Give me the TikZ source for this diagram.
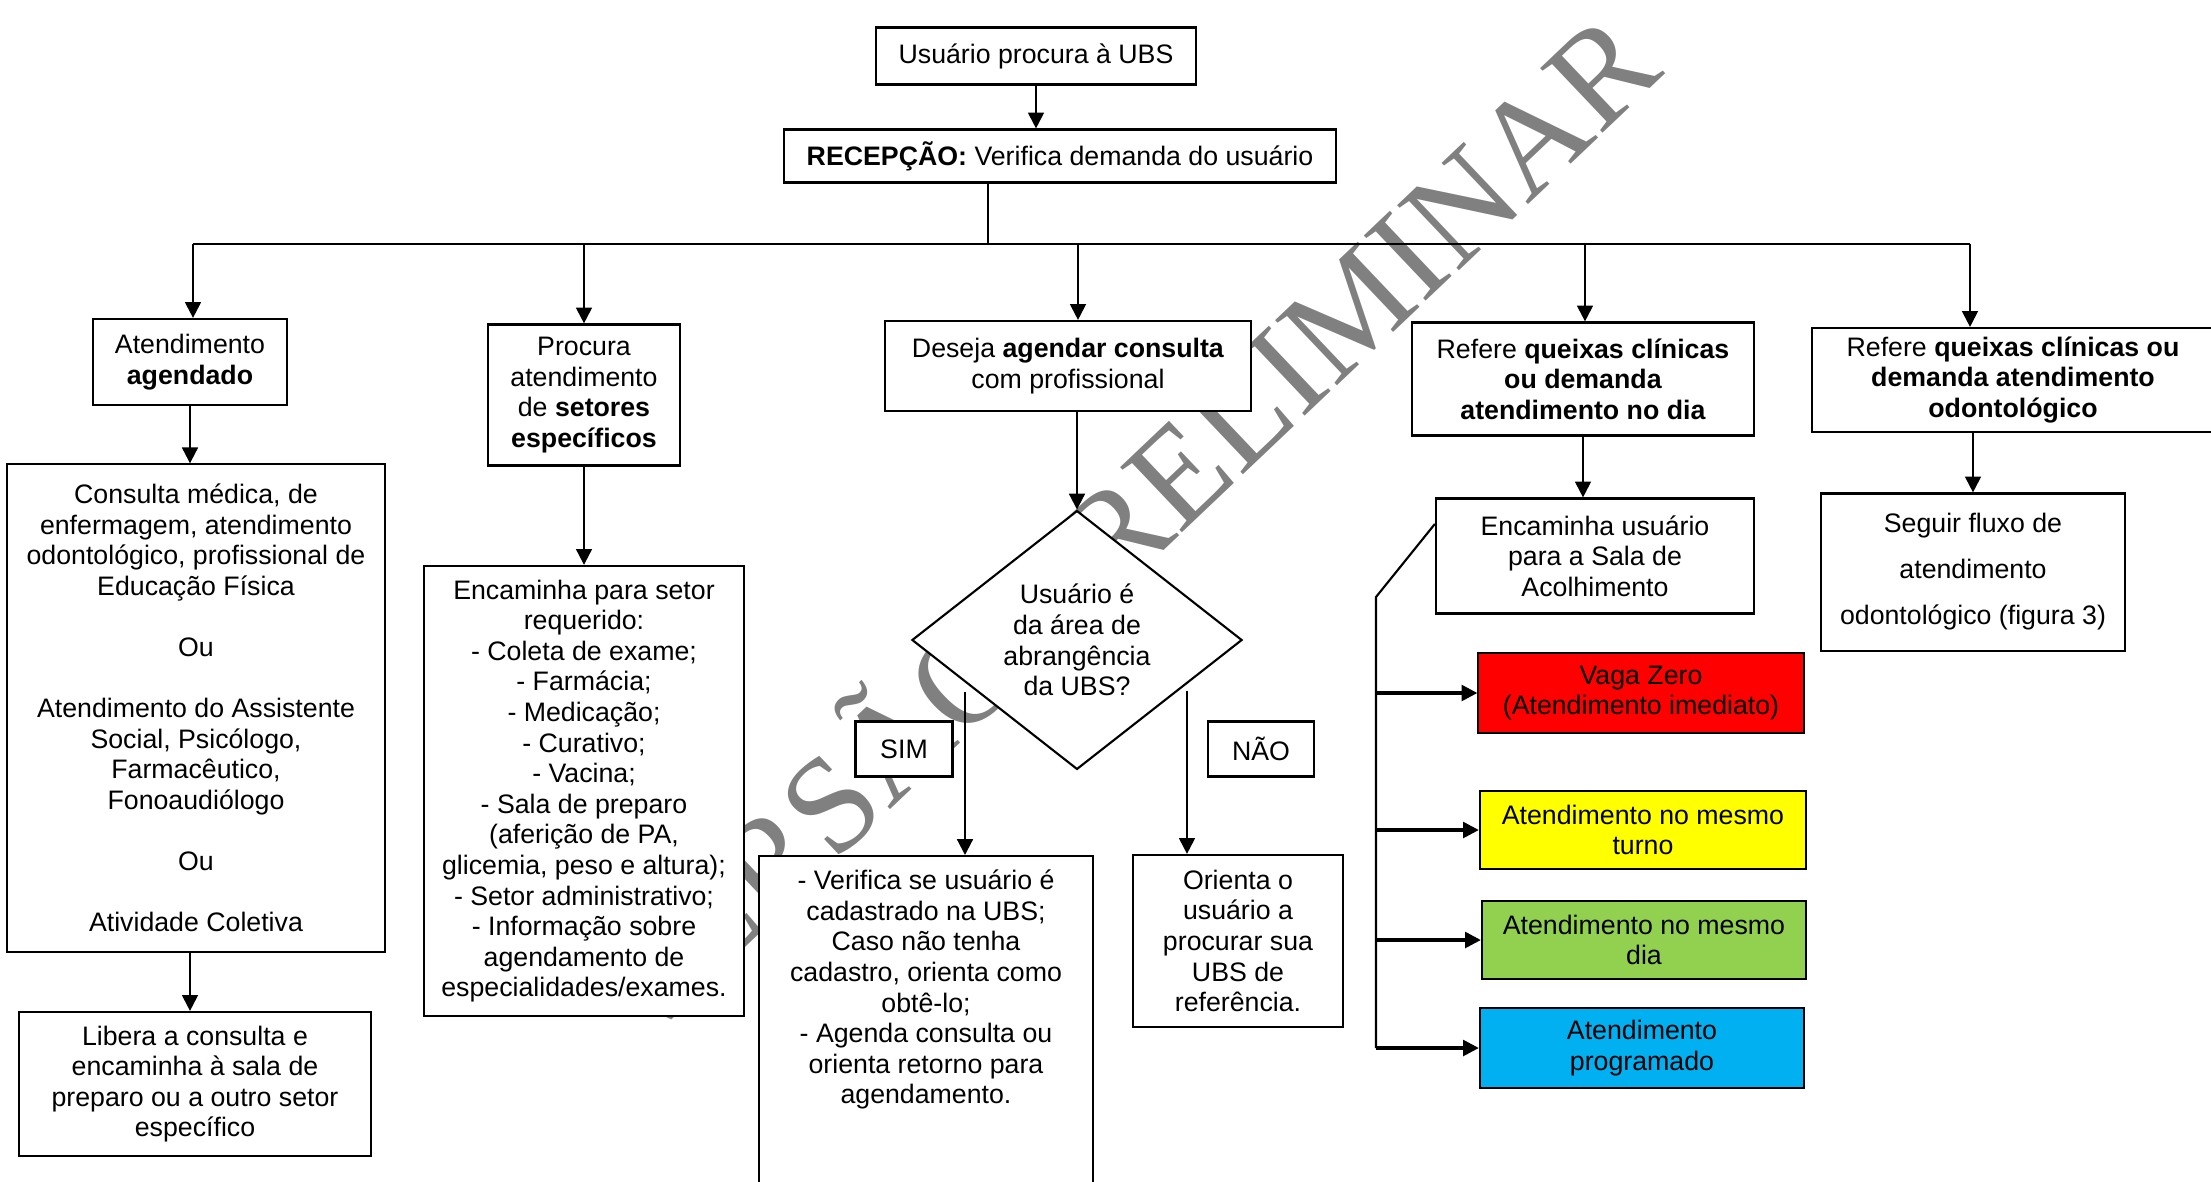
\documentclass[tikz,border=0pt]{standalone}
\usepackage{fontspec}
\setmainfont{Liberation Sans}
\newfontfamily\wmfont{Liberation Serif}
\usetikzlibrary{arrows.meta,shapes.geometric}
\pgfdeclarelayer{background}
\pgfsetlayers{background,main}
\definecolor{vzred}{HTML}{FF0000}
\definecolor{mtyellow}{HTML}{FFFF00}
\definecolor{mdgreen}{HTML}{92D050}
\definecolor{prblue}{HTML}{00B0F0}
\tikzstyle{box}=[draw,fill=white,line width=0.6pt,align=center,inner sep=0pt]
\tikzstyle{decision}=[diamond,draw,fill=white,line width=0.6pt,align=center,inner sep=0pt]
\tikzstyle{edge}=[draw,line width=0.6pt,-{Triangle[length=4.5pt,width=4.5pt]}]
\tikzstyle{branch}=[draw,line width=0.9pt,-{Triangle[length=4.5pt,width=4.5pt]}]
\tikzstyle{link}=[draw,line width=0.5pt]

\begin{document}
\begin{tikzpicture}[x=0.01cm,y=-0.01cm,font=\fontsize{7.6}{8.7}\selectfont]
\useasboundingbox (0,0) rectangle (2211,1181);

% watermark goes behind everything
\begin{pgfonlayer}{background}
\node[text=black!50,font=\fontsize{39}{39}\wmfont,rotate=43.5] (wm) at (1112,522) {VERSÃO PRELIMINAR};
\end{pgfonlayer}

% top of the flow
\node[box,minimum width=3.19cm,minimum height=0.57cm] (usr) at (1036,56) {Usuário procura à UBS};
\node[box,minimum width=5.52cm,minimum height=0.53cm] (rec) at (1060,156) {\textbf{RECEPÇÃO:} Verifica demanda do usuário};

% the five demands
\node[box,minimum width=1.94cm,minimum height=0.86cm] (ag) at (190,362) {Atendimento\\\textbf{agendado}};
\node[box,minimum width=1.92cm,minimum height=1.41cm] (proc) at (584,395) {Procura\\atendimento\\de \textbf{setores}\\\textbf{específicos}};
\node[box,minimum width=3.65cm,minimum height=0.90cm] (des) at (1068,366) {Deseja \textbf{agendar consulta}\\com profissional};
\node[box,minimum width=3.42cm,minimum height=1.13cm] (qd) at (1583,379) {Refere \textbf{queixas clínicas}\\\textbf{ou demanda}\\\textbf{atendimento no dia}};
\node[box,minimum width=4.02cm,minimum height=1.04cm] (qo) at (2013,380) {Refere \textbf{queixas clínicas ou}\\\textbf{demanda atendimento}\\\textbf{odontológico}};

% what follows each demand
\node[box,minimum width=3.77cm,minimum height=4.87cm] (cons) at (196,708) {Consulta médica, de\\enfermagem, atendimento\\odontológico, profissional de\\Educação Física\\[8.7pt]Ou\\[8.7pt]Atendimento do Assistente\\Social, Psicólogo,\\Farmacêutico,\\Fonoaudiólogo\\[8.7pt]Ou\\[8.7pt]Atividade Coletiva};
\node[box,minimum width=3.51cm,minimum height=1.44cm] (lib) at (195,1084) {Libera a consulta e\\encaminha à sala de\\preparo ou a outro setor\\específico};
\node[box,minimum width=3.20cm,minimum height=4.50cm] (enc) at (584,791) {Encaminha para setor\\requerido:\\- Coleta de exame;\\- Farmácia;\\- Medicação;\\- Curativo;\\- Vacina;\\- Sala de preparo\\(aferição de PA,\\glicemia, peso e altura);\\- Setor administrativo;\\- Informação sobre\\agendamento de\\especialidades/exames.};
\node[decision,minimum width=3.30cm,minimum height=2.50cm] (dia) at (1077,640) {Usuário é\\da área de\\abrangência\\da UBS?};
\node[box,minimum width=0.97cm,minimum height=0.55cm] (sim) at (904,749) {SIM};
\node[box,minimum width=1.06cm,minimum height=0.55cm] (nao) at (1261,749) {NÃO};
\node[box,anchor=north] (ver) at (926,855) {\parbox[t][3.45cm][t]{3.33cm}{\centering\vspace*{0.14cm}- Verifica se usuário é\\cadastrado na UBS;\\Caso não tenha\\cadastro, orienta como\\obtê-lo;\\- Agenda consulta ou\\orienta retorno para\\agendamento.}};
\node[box,minimum width=2.10cm,minimum height=1.72cm] (ori) at (1238,941) {Orienta o\\usuário a\\procurar sua\\UBS de\\referência.};
\node[box,minimum width=3.18cm,minimum height=1.15cm] (sala) at (1595,556) {Encaminha usuário\\para a Sala de\\Acolhimento};
\node[box,fill=vzred,minimum width=3.25cm,minimum height=0.80cm] (vz) at (1641,693) {Vaga Zero\\(Atendimento imediato)};
\node[box,fill=mtyellow,minimum width=3.26cm,minimum height=0.78cm] (mt) at (1643,830) {Atendimento no mesmo\\turno};
\node[box,fill=mdgreen,minimum width=3.24cm,minimum height=0.78cm] (md) at (1644,940) {Atendimento no mesmo\\dia};
\node[box,fill=prblue,minimum width=3.24cm,minimum height=0.80cm] (pr) at (1642,1048) {Atendimento\\programado};
\node[box,minimum width=3.03cm,minimum height=1.57cm,font=\fontsize{7.6}{13.1}\selectfont] (seg) at (1973,572) {Seguir fluxo de\\atendimento\\odontológico (figura 3)};

% connectors
\draw[edge] (usr.south) -- (usr.south |- rec.north);
\coordinate (hub) at (988,244);
\draw[link] (rec.south -| hub) -- (hub);
\foreach \x/\name in {193/ag, 584/proc, 1078/des, 1585/qd, 1970/qo}
  \coordinate (j\name) at (\x,244);
\draw[link] (jag) -- (jqo);
\foreach \name in {ag,proc,des,qd,qo}
  \draw[edge] (j\name) -- (j\name |- \name.north);

\draw[edge] (ag.south) -- (ag.south |- cons.north);
\draw[edge] (cons.south -| ag.south) -- (ag.south |- lib.north);
\draw[edge] (proc.south) -- (proc.south |- enc.north);
\draw[edge] (des.south -| dia.north) -- (dia.north);
\coordinate (simtop) at (965,692);
\coordinate (naotop) at (1187,691);
\draw[edge] (simtop) -- (simtop |- ver.north);
\draw[edge] (naotop) -- (naotop |- ori.north);
\draw[edge] (qd.south) -- (qd.south |- sala.north);
\draw[edge] (qo.south -| seg.north) -- (seg.north);

% bracket to the risk classes
\coordinate (br) at (1376,597);
\draw[link,line width=0.6pt] ([yshift=0.32cm]sala.west) -- (br) -- (br |- pr.west);
\foreach \name in {vz,mt,md,pr}
  \draw[branch] (br |- \name.west) -- (\name.west);
\end{tikzpicture}
\end{document}
